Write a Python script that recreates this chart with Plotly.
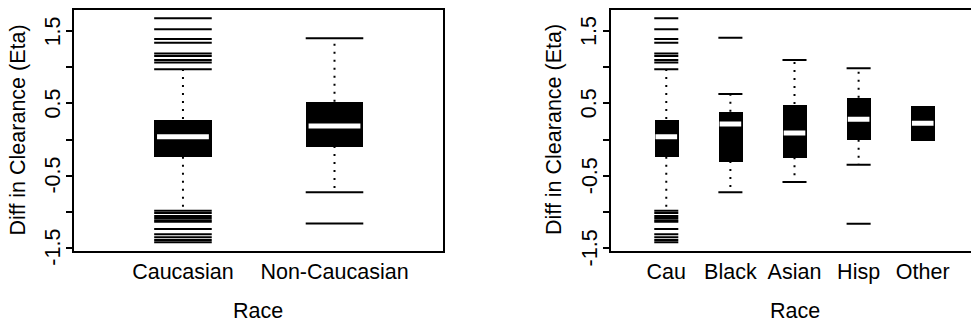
import plotly.graph_objects as go

# ---------------- data ----------------
left_cats = ["Caucasian", "Non-Caucasian"]
left_q1 = [-0.238, -0.090]
left_med = [0.039, 0.187]
left_q3 = [0.284, 0.524]
left_lo = [-0.987, -0.733]
left_hi = [0.973, 1.403]

cau_outliers = [1.681, 1.528, 1.394, 1.343, 1.193, 1.158, 1.103, 1.068,
                -1.02, -1.06, -1.09, -1.12, -1.14, -1.241, -1.315, -1.356,
                -1.394, -1.426]
noncau_outliers = [-1.163]

right_cats = ["Cau", "Black", "Asian", "Hisp", "Other"]
right_q1 = [-0.238, -0.298, -0.247, -0.003, -0.011]
right_med = [0.039, 0.215, 0.090, 0.280, 0.224]
right_q3 = [0.284, 0.386, 0.492, 0.580, 0.474]
right_lo = [-0.987, -0.733, -0.589, -0.349, None]
right_hi = [0.973, 0.631, 1.103, 0.987, None]
black_outliers = [1.412]
asian_outliers = []
hisp_outliers = [-1.168]
other_outliers = []

y_tickvals = [-1.5, -1.0, -0.5, 0.0, 0.5, 1.0, 1.5]
y_ticktext = ["-1.5", "", "-0.5", "", "0.5", "", "1.5"]

# ---------------- figure ----------------
W, H = 971, 324
FONT = "Liberation Sans, Arial, sans-serif"
FS = 21.5

fig = go.Figure()


def add_panel(cats, q1, med, q3, lo, hi, outs, width, xa, ya):
    n = len(cats)
    xs = list(range(1, n + 1))
    # boxes
    fig.add_trace(go.Bar(
        x=xs, y=[b - a for a, b in zip(q1, q3)], base=q1, width=width,
        marker=dict(color="black", line=dict(width=0)),
        xaxis=xa, yaxis=ya, showlegend=False, hoverinfo="skip"))
    # whiskers (dotted)
    wx, wy = [], []
    for x, a, b, l, h in zip(xs, q1, q3, lo, hi):
        if h is not None:
            wx += [x, x, None]
            wy += [b, h, None]
        if l is not None:
            wx += [x, x, None]
            wy += [a, l, None]
    fig.add_trace(go.Scatter(x=wx, y=wy, mode="lines",
                             line=dict(color="black", width=2, dash="2px,6px"),
                             xaxis=xa, yaxis=ya, showlegend=False, hoverinfo="skip"))
    # staples and outliers (horizontal segments as wide as the box)
    sx, sy = [], []
    for x, l, h, o in zip(xs, lo, hi, outs):
        for v in [l, h] + list(o):
            if v is None:
                continue
            sx += [x - width / 2, x + width / 2, None]
            sy += [v, v, None]
    fig.add_trace(go.Scatter(x=sx, y=sy, mode="lines",
                             line=dict(color="black", width=2),
                             xaxis=xa, yaxis=ya, showlegend=False, hoverinfo="skip"))
    # medians (white)
    mx, my = [], []
    for x, m in zip(xs, med):
        mx += [x - width * 0.45, x + width * 0.45, None]
        my += [m, m, None]
    fig.add_trace(go.Scatter(x=mx, y=my, mode="lines",
                             line=dict(color="white", width=5),
                             xaxis=xa, yaxis=ya, showlegend=False, hoverinfo="skip"))
    return xs


lx = add_panel(left_cats, left_q1, left_med, left_q3, left_lo, left_hi,
               [cau_outliers, noncau_outliers], 0.38, "x", "y")
rx = add_panel(right_cats, right_q1, right_med, right_q3, right_lo, right_hi,
               [cau_outliers, black_outliers, asian_outliers, hisp_outliers, other_outliers],
               0.375, "x2", "y2")

# pixel geometry
top_px, bot_px = 9.5, 251.0
ydom = [(H - bot_px) / H, (H - top_px) / H]
l_left, l_right = 74.0, 442.7
r_left = 610.7

axis_common = dict(showline=True, linewidth=1.5, linecolor="black",
                   showgrid=False, zeroline=False, automargin=False,
                   tickfont=dict(family=FONT, size=FS, color="black"))

yaxis_common = dict(axis_common, range=[-1.546, 1.803], tickvals=y_tickvals,
                    showticklabels=False, ticks="outside", ticklen=6, tickwidth=1.5,
                    tickcolor="black", domain=ydom)

xaxis_common = dict(axis_common, ticks="", mirror=True)

fig.update_layout(
    width=W, height=H,
    margin=dict(l=0, r=0, t=0, b=0, autoexpand=False),
    paper_bgcolor="white", plot_bgcolor="white",
    showlegend=False, bargap=0,
    font=dict(family=FONT, size=FS, color="black"),
    xaxis=dict(xaxis_common, domain=[l_left / W, l_right / W], range=[0.281, 2.714],
               tickvals=lx, ticktext=left_cats, anchor="y"),
    yaxis=dict(yaxis_common, mirror=True, anchor="x"),
    xaxis2=dict(xaxis_common, domain=[r_left / W, 1.0], range=[0.133, 5.753],
                tickvals=rx, ticktext=right_cats, anchor="y2"),
    yaxis2=dict(yaxis_common, mirror=False, anchor="x2"),
)

# rotated y tick labels (R style, parallel to the axis)
for yref, axis_px in (("y", l_left), ("y2", r_left)):
    for v, t in zip(y_tickvals, y_ticktext):
        if not t:
            continue
        fig.add_annotation(text=t, x=(axis_px - 21) / W, xref="paper", y=v, yref=yref,
                           textangle=-90, showarrow=False, xanchor="center",
                           yanchor="middle", borderpad=0,
                           font=dict(family=FONT, size=FS, color="black"))

ann = dict(showarrow=False, font=dict(family=FONT, size=FS, color="black"),
           xref="paper", yref="paper", xanchor="center", yanchor="bottom",
           borderpad=0)
fig.add_annotation(ann, text="Race", x=(l_left + l_right) / 2 / W, y=0.0)
fig.add_annotation(ann, text="Race", x=795.0 / W, y=0.0)
ann["yanchor"] = "middle"
fig.add_annotation(ann, text="Diff in Clearance (Eta)", textangle=-90,
                   x=17.5 / W, y=(H - 130) / H)
fig.add_annotation(ann, text="Diff in Clearance (Eta)", textangle=-90,
                   x=554.0 / W, y=(H - 130) / H)

fig.write_html("out.html")
